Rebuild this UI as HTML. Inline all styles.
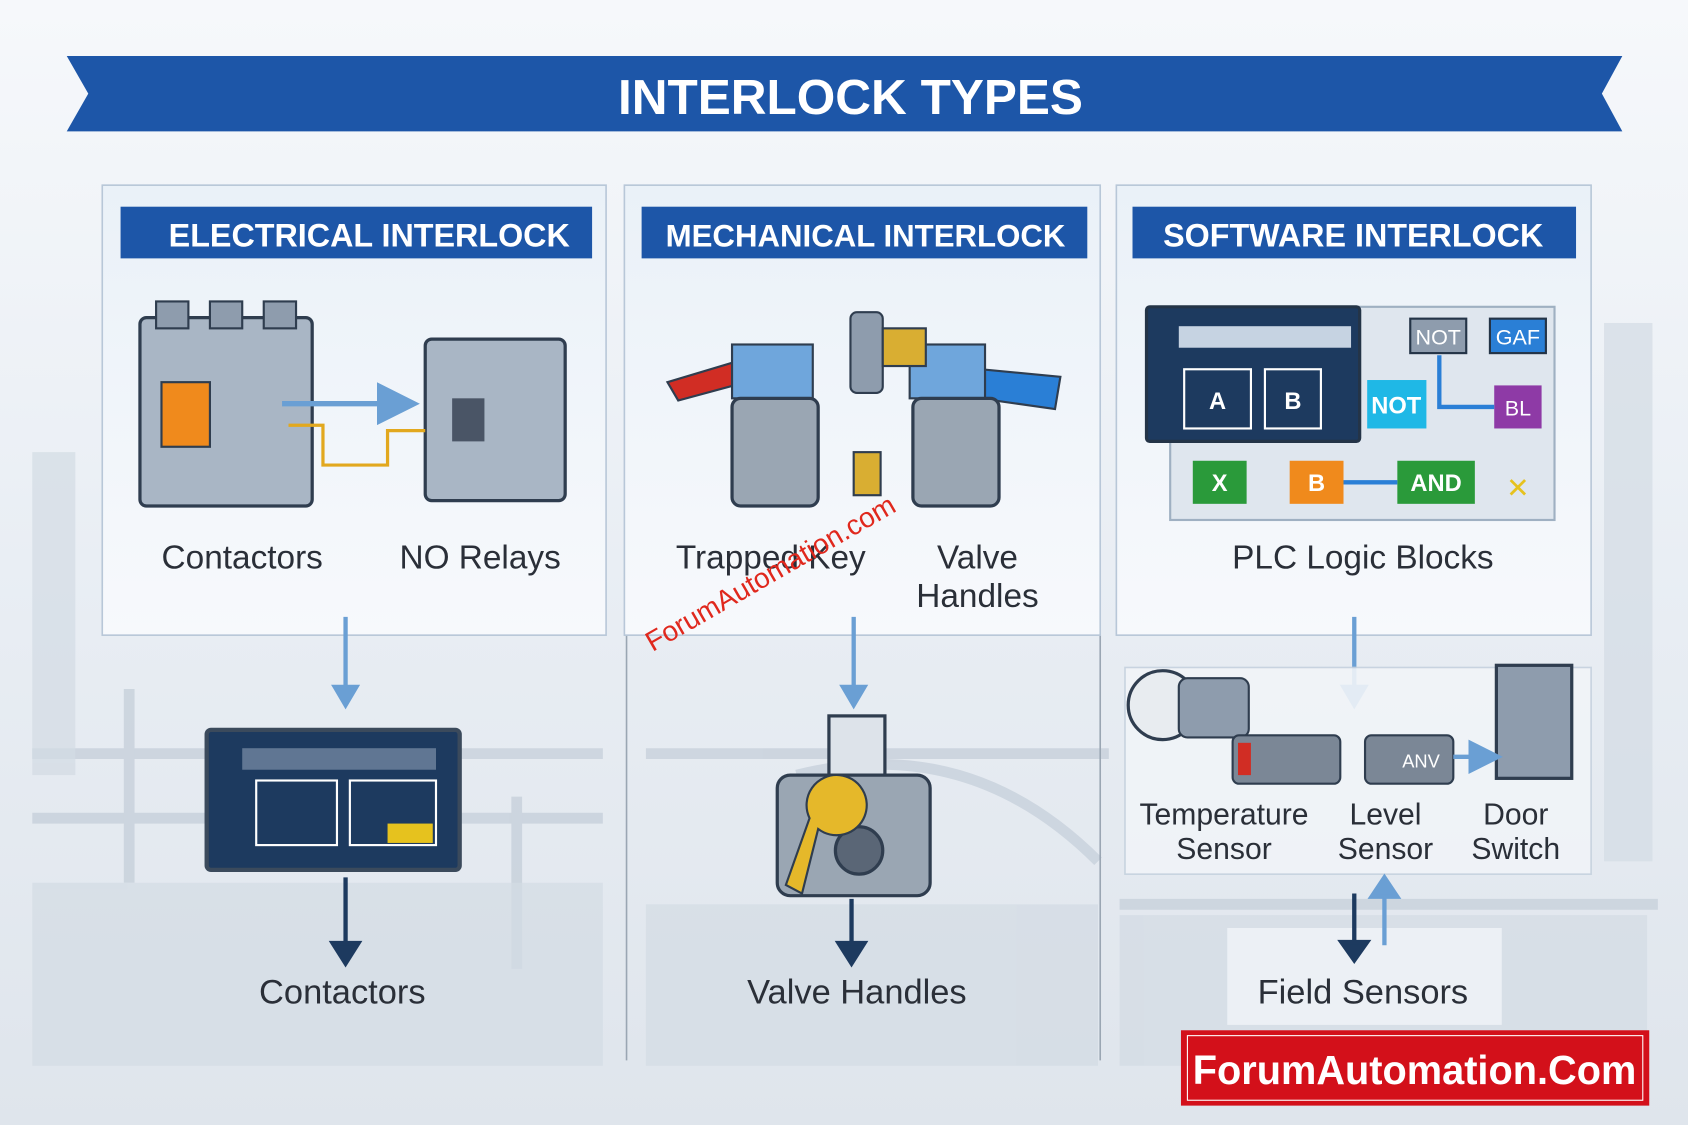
<!DOCTYPE html>
<html><head><meta charset="utf-8"><style>
html,body{margin:0;padding:0;width:1688px;height:1125px;overflow:hidden;background:#eef2f6}
svg{display:block}
text{font-family:"Liberation Sans",sans-serif}
</style></head><body>
<svg width="1688" height="1125" viewBox="0 0 1568 1045" preserveAspectRatio="none">
<defs>
<linearGradient id="bg" x1="0" y1="0" x2="0" y2="1">
<stop offset="0" stop-color="#f6f8fb"/><stop offset="0.5" stop-color="#e9eef4"/><stop offset="1" stop-color="#dfe5ec"/>
</linearGradient>
<linearGradient id="pan" x1="0" y1="0" x2="0" y2="1">
<stop offset="0" stop-color="#eaf1f8"/><stop offset="1" stop-color="#f7f9fc"/>
</linearGradient>
<marker id="ah" markerWidth="8" markerHeight="8" refX="4" refY="4" orient="auto"><path d="M0,0 L8,4 L0,8z" fill="#6a9fd4"/></marker>
</defs>
<rect width="1568" height="1045" fill="url(#bg)"/>
<!-- faint industrial background -->
<g fill="none" stroke="#c3cdd8" stroke-width="10" opacity="0.7">
<path d="M30 700 H560"/><path d="M30 760 H560"/><path d="M600 700 H1030"/><path d="M740 720 Q900 680 1020 800"/>
<path d="M1040 840 H1540"/><path d="M480 740 V900"/><path d="M120 640 V820"/>
</g>
<g fill="#d3dbe4" opacity="0.7">
<rect x="30" y="420" width="40" height="300"/><rect x="1490" y="300" width="45" height="500"/>
<rect x="30" y="820" width="530" height="170"/><rect x="600" y="840" width="420" height="150"/><rect x="1040" y="850" width="490" height="140"/>
</g>
<line x1="582" y1="590" x2="582" y2="985" stroke="#9aa6b3" stroke-width="1.5"/>
<line x1="1022" y1="590" x2="1022" y2="985" stroke="#9aa6b3" stroke-width="1.5"/>

<!-- Banner -->
<path d="M62 52 H1507 L1488 87 L1507 122 H62 L82 87 Z" fill="#1d56a8"/>
<text x="790" y="106" font-size="46" font-weight="bold" fill="#fff" text-anchor="middle">INTERLOCK TYPES</text>

<!-- Panels -->
<rect x="95" y="172" width="468" height="418" fill="url(#pan)" stroke="#b8c7d8" stroke-width="1.5"/>
<rect x="580" y="172" width="442" height="418" fill="url(#pan)" stroke="#b8c7d8" stroke-width="1.5"/>
<rect x="1037" y="172" width="441" height="418" fill="url(#pan)" stroke="#b8c7d8" stroke-width="1.5"/>
<rect x="112" y="192" width="438" height="48" fill="#1d56a8"/>
<text x="343" y="229" font-size="30" font-weight="bold" fill="#fff" text-anchor="middle">ELECTRICAL INTERLOCK</text>
<rect x="596" y="192" width="414" height="48" fill="#1d56a8"/>
<text x="804" y="229" font-size="29" font-weight="bold" fill="#fff" text-anchor="middle">MECHANICAL INTERLOCK</text>
<rect x="1052" y="192" width="412" height="48" fill="#1d56a8"/>
<text x="1257" y="229" font-size="30" font-weight="bold" fill="#fff" text-anchor="middle">SOFTWARE INTERLOCK</text>

<!-- Electrical icons -->
<rect x="130" y="295" width="160" height="175" rx="6" fill="#a9b6c5" stroke="#2f3d4f" stroke-width="3"/>
<rect x="145" y="280" width="30" height="25" fill="#8e9cad" stroke="#2f3d4f" stroke-width="2"/>
<rect x="195" y="280" width="30" height="25" fill="#8e9cad" stroke="#2f3d4f" stroke-width="2"/>
<rect x="245" y="280" width="30" height="25" fill="#8e9cad" stroke="#2f3d4f" stroke-width="2"/>
<rect x="150" y="355" width="45" height="60" fill="#f08a1c" stroke="#2f3d4f" stroke-width="2"/>
<rect x="395" y="315" width="130" height="150" rx="6" fill="#a9b6c5" stroke="#2f3d4f" stroke-width="3"/>
<rect x="420" y="370" width="30" height="40" fill="#4a5566"/>
<path d="M262 375 H370" stroke="#6a9fd4" stroke-width="5" marker-end="url(#ah)"/>
<path d="M268 395 H300 V432 H360 V400 H395" fill="none" stroke="#e2a81e" stroke-width="3"/>
<text x="225" y="528" font-size="31" fill="#2a2f38" text-anchor="middle">Contactors</text>
<text x="446" y="528" font-size="31" fill="#2a2f38" text-anchor="middle">NO Relays</text>

<!-- Mechanical icons -->
<path d="M620 355 L720 325 L730 345 L630 372 Z" fill="#d12d24" stroke="#2f3d4f" stroke-width="2"/>
<path d="M880 340 L985 350 L980 380 L875 365 Z" fill="#2a7fd6" stroke="#2f3d4f" stroke-width="2"/>
<rect x="680" y="320" width="75" height="50" fill="#6fa6dc" stroke="#2f3d4f" stroke-width="2"/>
<rect x="845" y="320" width="70" height="50" fill="#6fa6dc" stroke="#2f3d4f" stroke-width="2"/>
<rect x="680" y="370" width="80" height="100" rx="8" fill="#9aa6b3" stroke="#2f3d4f" stroke-width="3"/>
<rect x="848" y="370" width="80" height="100" rx="8" fill="#9aa6b3" stroke="#2f3d4f" stroke-width="3"/>
<rect x="790" y="290" width="30" height="75" rx="6" fill="#8e9cad" stroke="#2f3d4f" stroke-width="2"/>
<rect x="820" y="305" width="40" height="35" fill="#d9ae32" stroke="#2f3d4f" stroke-width="2"/>
<rect x="793" y="420" width="25" height="40" fill="#d9ae32" stroke="#2f3d4f" stroke-width="2"/>
<text x="716" y="528" font-size="31" fill="#2a2f38" text-anchor="middle">Trapped Key</text>
<text x="908" y="528" font-size="31" fill="#2a2f38" text-anchor="middle">Valve</text>
<text x="908" y="564" font-size="31" fill="#2a2f38" text-anchor="middle">Handles</text>
<text x="720" y="540" font-size="26" fill="#e0281d" font-family="Liberation Serif" transform="rotate(-30 720 540)" text-anchor="middle">ForumAutomation.com</text>

<!-- Software icons -->
<rect x="1087" y="285" width="357" height="198" fill="#dfe6ee" stroke="#9fb0c2" stroke-width="2"/>
<rect x="1065" y="285" width="198" height="125" rx="3" fill="#1d3a5f" stroke="#243447" stroke-width="3"/>
<rect x="1095" y="303" width="160" height="20" fill="#c6d3e2"/>
<rect x="1100" y="343" width="62" height="55" fill="#1d3a5f" stroke="#fff" stroke-width="2"/>
<text x="1131" y="380" font-size="22" fill="#fff" font-weight="bold" text-anchor="middle">A</text>
<rect x="1175" y="343" width="52" height="55" fill="#1d3a5f" stroke="#fff" stroke-width="2"/>
<text x="1201" y="380" font-size="22" fill="#fff" font-weight="bold" text-anchor="middle">B</text>
<rect x="1310" y="296" width="52" height="32" fill="#8e9cad" stroke="#243447" stroke-width="2"/><text x="1336" y="320" font-size="20" fill="#fff" text-anchor="middle">NOT</text>
<rect x="1384" y="296" width="52" height="32" fill="#2a7fd6" stroke="#243447" stroke-width="2"/><text x="1410" y="320" font-size="20" fill="#fff" text-anchor="middle">GAF</text>
<rect x="1270" y="353" width="55" height="45" fill="#1fb8e6"/><text x="1297" y="384" font-size="22" fill="#fff" font-weight="bold" text-anchor="middle">NOT</text>
<rect x="1388" y="358" width="44" height="40" fill="#8e3aa6"/><text x="1410" y="386" font-size="20" fill="#fff" text-anchor="middle">BL</text>
<rect x="1108" y="428" width="50" height="40" fill="#2a9a3a"/><text x="1133" y="456" font-size="22" fill="#fff" font-weight="bold" text-anchor="middle">X</text>
<rect x="1198" y="428" width="50" height="40" fill="#f08a1c"/><text x="1223" y="456" font-size="22" fill="#fff" font-weight="bold" text-anchor="middle">B</text>
<rect x="1298" y="428" width="72" height="40" fill="#2a9a3a"/><text x="1334" y="456" font-size="22" fill="#fff" font-weight="bold" text-anchor="middle">AND</text>
<path d="M1248 448 H1298 M1337 330 V378 H1388" stroke="#2a7fd6" stroke-width="4" fill="none"/>
<text x="1410" y="462" font-size="26" fill="#e6c21e" text-anchor="middle">✕</text>
<text x="1266" y="528" font-size="31" fill="#2a2f38" text-anchor="middle">PLC Logic Blocks</text>

<!-- Down arrows -->
<g stroke="#6a9fd4" stroke-width="4" fill="#6a9fd4">
<line x1="321" y1="573" x2="321" y2="640"/><path d="M311 638 L321 655 L331 638Z"/>
<line x1="793" y1="573" x2="793" y2="640"/><path d="M783 638 L793 655 L803 638Z"/>
<line x1="1258" y1="573" x2="1258" y2="640"/><path d="M1248 638 L1258 655 L1268 638Z"/>
</g>

<!-- Electrical bottom monitor -->
<rect x="192" y="678" width="235" height="130" rx="4" fill="#1d3a5f" stroke="#3b4a5c" stroke-width="4"/>
<rect x="225" y="695" width="180" height="20" fill="#c6d3e2" opacity="0.4"/>
<rect x="238" y="725" width="75" height="60" fill="none" stroke="#fff" stroke-width="2"/>
<rect x="325" y="725" width="80" height="60" fill="none" stroke="#fff" stroke-width="2"/>
<rect x="360" y="765" width="42" height="18" fill="#e6c21e"/>
<g stroke="#1d3a5f" stroke-width="4" fill="#1d3a5f"><line x1="321" y1="815" x2="321" y2="880"/><path d="M309 876 L321 895 L333 876Z"/></g>
<text x="318" y="932" font-size="32" fill="#2a2f38" text-anchor="middle">Contactors</text>

<!-- Mechanical bottom key lock -->
<rect x="770" y="665" width="52" height="65" fill="#dde3ea" stroke="#2f3d4f" stroke-width="3"/>
<rect x="722" y="720" width="142" height="112" rx="12" fill="#9aa6b3" stroke="#2f3d4f" stroke-width="3"/>
<circle cx="798" cy="790" r="22" fill="#5a6676" stroke="#2f3d4f" stroke-width="3"/>
<path d="M780 720 a28 28 0 1 1 -20 50 L745 830 L730 822 L752 760 a28 28 0 0 1 28 -40z" fill="#e5b82a" stroke="#2f3d4f" stroke-width="2"/>
<g stroke="#1d3a5f" stroke-width="4" fill="#1d3a5f"><line x1="791" y1="835" x2="791" y2="880"/><path d="M779 876 L791 895 L803 876Z"/></g>
<text x="796" y="932" font-size="32" fill="#2a2f38" text-anchor="middle">Valve Handles</text>

<!-- Software bottom sensors -->
<rect x="1045" y="620" width="433" height="192" fill="#f1f4f8" stroke="#c5d1de" stroke-width="1.5" opacity="0.9"/>
<circle cx="1080" cy="655" r="32" fill="#e8ecf0" stroke="#2f3d4f" stroke-width="3"/>
<rect x="1095" y="630" width="65" height="55" rx="8" fill="#8e9cad" stroke="#2f3d4f" stroke-width="2"/>
<rect x="1145" y="683" width="100" height="45" rx="6" fill="#7b8796" stroke="#2f3d4f" stroke-width="2"/>
<rect x="1150" y="690" width="12" height="30" fill="#d12d24"/>
<rect x="1268" y="683" width="82" height="45" rx="6" fill="#7b8796" stroke="#2f3d4f" stroke-width="2"/>
<text x="1320" y="713" font-size="17" fill="#fff" text-anchor="middle">ANV</text>
<rect x="1390" y="618" width="70" height="105" fill="#8e9cad" stroke="#2f3d4f" stroke-width="3"/>
<path d="M1350 703 H1380" stroke="#6a9fd4" stroke-width="4" marker-end="url(#ah)"/>
<text x="1137" y="766" font-size="28" fill="#2a2f38" text-anchor="middle">Temperature</text>
<text x="1137" y="798" font-size="28" fill="#2a2f38" text-anchor="middle">Sensor</text>
<text x="1287" y="766" font-size="28" fill="#2a2f38" text-anchor="middle">Level</text>
<text x="1287" y="798" font-size="28" fill="#2a2f38" text-anchor="middle">Sensor</text>
<text x="1408" y="766" font-size="28" fill="#2a2f38" text-anchor="middle">Door</text>
<text x="1408" y="798" font-size="28" fill="#2a2f38" text-anchor="middle">Switch</text>
<rect x="1140" y="862" width="255" height="90" fill="#eef2f6" opacity="0.9"/>
<g stroke="#1d3a5f" stroke-width="4" fill="#1d3a5f"><line x1="1258" y1="830" x2="1258" y2="878"/><path d="M1246 875 L1258 892 L1270 875Z"/></g>
<g stroke="#6a9fd4" stroke-width="4" fill="#6a9fd4"><line x1="1286" y1="830" x2="1286" y2="878"/><path d="M1274 833 L1286 815 L1298 833Z"/></g>
<text x="1266" y="932" font-size="32" fill="#2a2f38" text-anchor="middle">Field Sensors</text>

<!-- Red logo box -->
<rect x="1097" y="957" width="435" height="70" fill="#d3101a"/>
<rect x="1103" y="962" width="423" height="60" fill="none" stroke="#fff" stroke-width="1"/>
<text x="1314" y="1007" font-size="38" font-weight="bold" fill="#fff" text-anchor="middle" textLength="412" lengthAdjust="spacingAndGlyphs">ForumAutomation.Com</text>
</svg>
</body></html>
